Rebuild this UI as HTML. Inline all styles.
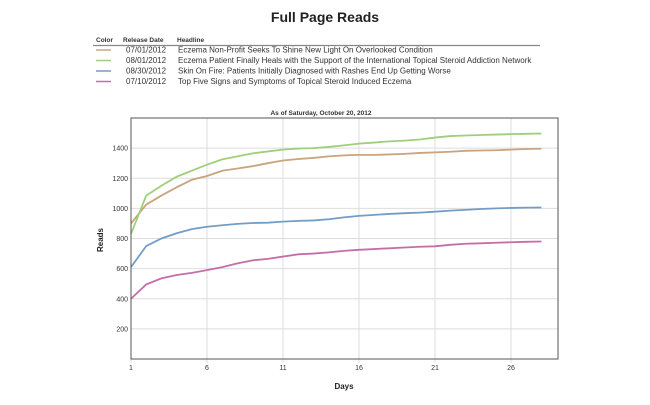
<!DOCTYPE html>
<html><head><meta charset="utf-8"><style>
body{margin:0;background:#fff;font-family:"Liberation Sans",sans-serif;}
svg text{font-family:"Liberation Sans",sans-serif;}
</style></head><body>
<svg id="c" width="650" height="400" xmlns="http://www.w3.org/2000/svg">
<text x="325" y="22" text-anchor="middle" font-size="14" font-weight="bold" fill="#222">Full Page Reads</text>
<g font-size="7.5" fill="#333">
<text x="96" y="42" font-size="6.5" font-weight="bold">Color</text>
<text x="123" y="42" font-size="6.5" font-weight="bold">Release Date</text>
<text x="177" y="42" font-size="6.5" font-weight="bold">Headline</text>
<line x1="93" y1="45.5" x2="540" y2="45.5" stroke="#888" stroke-width="1.2"/>
<g id="legendRows"></g>
</g>
<text x="321" y="115" text-anchor="middle" font-size="6.5" font-weight="bold" fill="#333">As of Saturday, October 20, 2012</text>
<g id="grid"></g>
<g id="lines"></g>
<rect x="131" y="118" width="427" height="241" fill="none" stroke="#555" stroke-width="1"/>
<text transform="translate(103,240) rotate(-90)" text-anchor="middle" font-size="8" font-weight="bold" fill="#222">Reads</text>
<text x="344" y="389" text-anchor="middle" font-size="8" font-weight="bold" fill="#222">Days</text>
</svg>
<script>
const days=[];for(let d=1;d<=28;d++)days.push(d);
const yTicks=[200,400,600,800,1000,1200,1400];
const xTicks=[1,6,11,16,21,26];
const dates=["07/01/2012","08/01/2012","08/30/2012","07/10/2012"];
const headlines=["Eczema Non-Profit Seeks To Shine New Light On Overlooked Condition","Eczema Patient Finally Heals with the Support of the International Topical Steroid Addiction Network","Skin On Fire: Patients Initially Diagnosed with Rashes End Up Getting Worse","Top Five Signs and Symptoms of Topical Steroid Induced Eczema"];
const orange=[900,1025,1085,1140,1190,1215,1250,1265,1280,1300,1318,1328,1335,1345,1352,1355,1355,1358,1362,1368,1372,1376,1382,1384,1386,1390,1394,1396];
const green=[830,1085,1150,1210,1250,1290,1325,1345,1365,1378,1390,1397,1400,1408,1418,1430,1437,1445,1450,1457,1470,1480,1484,1487,1490,1493,1495,1497];
const blue=[610,750,800,835,862,878,888,897,903,905,912,917,920,928,940,950,957,963,968,972,978,985,990,996,1000,1003,1005,1006];
const pink=[400,495,535,558,572,590,610,635,655,665,680,695,700,708,718,725,730,735,740,745,748,758,765,768,772,775,778,780];
const series=[orange,green,blue,pink];
const colors=["#c9a47c","#9fcf7a","#729dc6","#c46ea8"];
const names=["orange","green","blue","pink"];
const NS="http://www.w3.org/2000/svg";
const X=d=>131+(d-1)*15.2, Y=v=>359-v*241/1600;
function mk(tag,attrs,parent){const e=document.createElementNS(NS,tag);for(const k in attrs)e.setAttribute(k,attrs[k]);parent.appendChild(e);return e;}
const grid=document.getElementById('grid');
yTicks.forEach(v=>{const l=mk('line',{x1:131,x2:558,y1:Y(v),y2:Y(v),stroke:'#ddd','stroke-width':1},grid);


const t=mk('text',{x:128,y:Y(v)+2.5,'text-anchor':'end','font-size':'7',fill:'#333'},grid);t.textContent=v;

});
xTicks.forEach(d=>{const l=mk('line',{x1:X(d),x2:X(d),y1:118,y2:363,stroke:'#ddd','stroke-width':1},grid);


const t=mk('text',{x:X(d),y:370,'text-anchor':'middle','font-size':'7',fill:'#333'},grid);t.textContent=d;

});
const lines=document.getElementById('lines');
series.forEach((s,i)=>{const p=mk('polyline',{points:s.map((v,j)=>X(days[j])+','+Y(v)).join(' '),fill:'none',stroke:colors[i],'stroke-width':1.8},lines);

});
const lr=document.getElementById('legendRows');
dates.forEach((d,i)=>{const y=52.5+i*10.5;
const g=mk('g',{},lr);


mk('line',{x1:96,x2:111,y1:y-2.5,y2:y-2.5,stroke:colors[i],'stroke-width':1.5},g);
const t1=mk('text',{x:126,y:y,'font-size':'8'},g);t1.textContent=d;
const t2=mk('text',{x:178,y:y,'font-size':'8'},g);t2.textContent=headlines[i];});
</script>
</body></html>
